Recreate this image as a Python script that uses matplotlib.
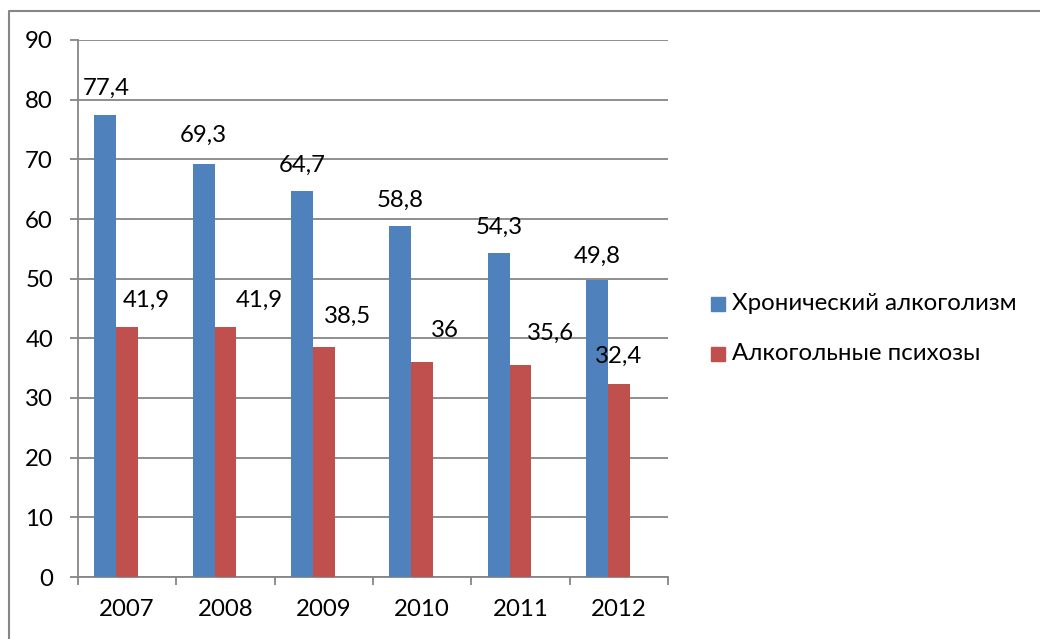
import matplotlib
matplotlib.use("Agg")
import matplotlib.pyplot as plt
from matplotlib.patches import Rectangle
from matplotlib.lines import Line2D

years = ["2007", "2008", "2009", "2010", "2011", "2012"]
chronic = [77.4, 69.3, 64.7, 58.8, 54.3, 49.8]
psychoses = [41.9, 41.9, 38.5, 36.0, 35.6, 32.4]
chronic_labels = ["77,4", "69,3", "64,7", "58,8", "54,3", "49,8"]
psychoses_labels = ["41,9", "41,9", "38,5", "36", "35,6", "32,4"]
series_names = ["Хронический алкоголизм", "Алкогольные психозы"]
yticks = [0, 10, 20, 30, 40, 50, 60, 70, 80, 90]

# label placement offsets (pixels): dx, dy of text centre from bar top centre
chronic_off = [(1, 27), (0, 28), (0, 26), (0, 26), (1, 26), (0, 24)]
psych_off = [(19, 27), (34, 27), (24, 31), (23, 32), (30, 31), (0, 27)]

BLUE = "#4F81BD"
RED = "#C0504D"
GRID = "#868686"
FONT = ["Lato", "Open Sans", "DejaVu Sans"]
FS = 17.3

plt.rcParams['font.family'] = FONT

fig = plt.figure(figsize=(10.4, 6.39), dpi=100)
W, H = 1040, 639
ax = fig.add_axes([78 / W, 1 - 577 / H, (668 - 78) / W, (577 - 40) / H])

w = 1 / 4.5
xs = list(range(len(years)))
# groups sit left of the category centre (third slot empty)
bx = [x - w for x in xs]
rx = [x for x in xs]
ax.bar(bx, chronic, width=w, color=BLUE, zorder=3)
ax.bar(rx, psychoses, width=w, color=RED, zorder=3)

ax.set_xlim(-0.5, len(years) - 0.5)
ax.set_ylim(0, 90)
ax.set_yticks(yticks)
ax.set_yticklabels([str(v) for v in yticks], fontsize=FS)
ax.yaxis.grid(True, color=GRID, linewidth=1.3, zorder=0)
ax.set_axisbelow(True)

ax.set_xticks([x - 0.5 for x in xs] + [len(years) - 0.5])
ax.set_xticklabels([])
ax.set_xticks(xs, minor=True)
ax.set_xticklabels(years, minor=True, fontsize=FS)
ax.tick_params(axis='x', which='minor', length=0, pad=16)
ax.tick_params(axis='x', which='major', length=6, width=1.3, color=GRID, direction='out')
ax.tick_params(axis='y', length=6, width=1.3, color=GRID, direction='out', pad=12)

for s in ['top', 'right']:
    ax.spines[s].set_visible(False)
for s in ['left', 'bottom']:
    ax.spines[s].set_color(GRID)
    ax.spines[s].set_linewidth(1.3)

for i in xs:
    ax.annotate(chronic_labels[i], (i - w, chronic[i]), xytext=chronic_off[i],
                textcoords='offset pixels', ha='center', va='center', fontsize=FS)
    ax.annotate(psychoses_labels[i], (i, psychoses[i]), xytext=psych_off[i],
                textcoords='offset pixels', ha='center', va='center', fontsize=FS)

# legend
leg_y = [304, 354]
for name, col, yy in zip(series_names, [BLUE, RED], leg_y):
    fig.patches.append(Rectangle((711 / W, 1 - (yy + 7) / H), 14 / W, 14 / H,
                                 transform=fig.transFigure, color=col, figure=fig))
    fig.text(732 / W, 1 - yy / H, name, ha='left', va='center', fontsize=FS)

# outer border (only top and left edges visible; image is cropped)
fig.lines.append(Line2D([9 / W, 9 / W, 1.0], [0.0, 1 - 11 / H, 1 - 11 / H],
                        transform=fig.transFigure, color=GRID, linewidth=1.5, figure=fig))

fig.savefig("out.png", dpi=100)
